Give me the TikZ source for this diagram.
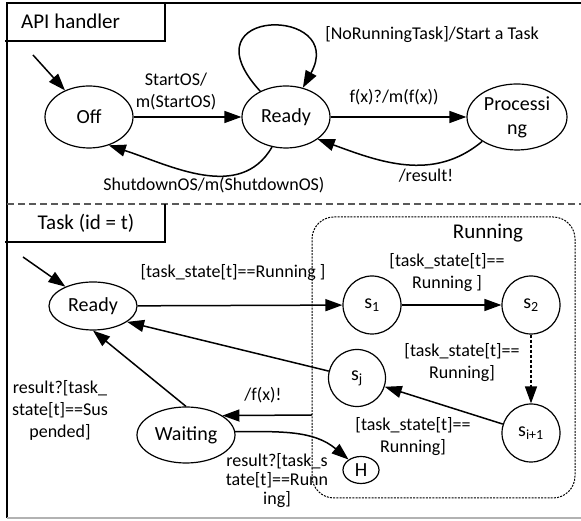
\documentclass[tikz,border=0pt]{standalone}
\usepackage{fontspec}
\setmainfont{Carlito}
\usetikzlibrary{
  arrows.meta,
  shapes.geometric
}
\tikzset{
  state/.style={
    draw,
    ellipse,
    line width=1.2pt,
    inner sep=0pt,
    font=\fontsize{20}{24}\selectfont
  },
  substate/.style={
    draw,
    circle,
    line width=1.2pt,
    inner sep=0pt,
    minimum size=58pt,
    font=\fontsize{20}{24}\selectfont
  },
  trans/.style={
    draw,
    line width=1.5pt,
    -{Triangle[length=17pt,width=12pt]}
  },
  guard/.style={
    inner sep=0pt,
    align=center,
    font=\fontsize{18}{22}\selectfont
  },
  region title/.style={
    inner sep=0pt,
    font=\fontsize{21}{24}\selectfont
  }
}

\begin{document}
\begin{tikzpicture}[x=1pt,y=1pt]
  \useasboundingbox (0,0) rectangle (581,521);

  % frame and regions
  \draw[line width=1.5pt] (581,518) -- (7,518) -- (7,3);
  \draw[line width=1.5pt, gray!60] (7,3) -- (581,3);
  \draw[line width=1.2pt] (5,480) -- (165,480) -- (165,518);
  \draw[line width=1.2pt, gray!70!black, dash pattern=on 7pt off 4pt] (7,317) -- (581,317);
  \draw[line width=1.2pt] (5,279) -- (165,279) -- (165,317);
  \node[region title, anchor=west] (apititle) at (21,500) {API handler};
  \node[region title] (tasktitle) at (86,298) {Task (id = t)};

  % API handler
  \node[state, minimum width=88pt, minimum height=62pt] (off) at (89,404) {Off};
  \node[state, minimum width=88pt, minimum height=62pt] (ready) at (286,404) {Ready};
  \node[state, minimum width=100pt, minimum height=66pt, align=center] (proc) at (517,404) {Processi\\ng};
  \coordinate (offinit) at (33,466);

  \draw[trans] (offinit) -- (off);
  \draw[trans] (off) -- (ready)
    node[guard] (startlbl) at (176,429) {StartOS/\\m(StartOS)};
  \draw[trans] (ready.-115) to[out=-120,in=-18] (off.-55)
    node[guard] (shutlbl) at (214,336) {ShutdownOS/m(ShutdownOS)};
  \draw[trans] (ready) -- (proc)
    node[guard] (calllbl) at (394,424) {f(x)?/m(f(x))};
  \draw[trans] (proc.-145) to[out=-140,in=-20] (ready.-35)
    node[guard] (resultlbl) at (426,345) {/result!};
  \draw[trans] (ready.135) .. controls (182,515) and (348,515) .. (ready.60)
    node[guard] (looplbl) at (432,486) {[NoRunningTask]/Start a Task};

  % Task
  \draw[line width=1pt, rounded corners=22pt, dash pattern=on 2pt off 1.2pt] (312,23) rectangle (575,304);
  \node[region title] (runlbl) at (488,288) {Running};

  \node[state, minimum width=88pt, minimum height=48pt] (tready) at (93,215) {Ready};
  \node[state, minimum width=98pt, minimum height=56pt] (waiting) at (186,86) {Waiting};
  \node[substate] (s1) at (372,216) {s\textsubscript{1}};
  \node[substate] (s2) at (531,216) {s\textsubscript{2}};
  \node[substate, minimum size=57pt] (sj) at (357,143) {s\textsubscript{j}};
  \node[substate] (si) at (531,88) {s\textsubscript{i+1}};
  \node[state, minimum width=36pt, minimum height=27pt] (hist) at (361,51) {H};
  \coordinate (treadyinit) at (23,264);
  \coordinate (fxout) at (312,106);

  \draw[trans] (treadyinit) -- (tready);
  \draw[trans] (tready) -- (s1)
    node[guard] (runlbl1) at (233,248) {[task\_state[t]==Running ]};
  \draw[trans] (s1) -- (s2)
    node[guard] (runlbl2) at (447,248) {[task\_state[t]==\\Running ]};
  \draw[trans, dash pattern=on 3pt off 2pt] (s2) -- (si)
    node[guard] (runlbl3) at (462,158) {[task\_state[t]==\\Running]};
  \draw[trans] (si) -- (sj)
    node[guard] (runlbl4) at (413,84) {[task\_state[t]==\\Running]};
  \draw[trans] (sj) -- (tready.-25);
  \draw[trans] (waiting.north) -- (tready.south)
    node[guard] (suslbl) at (60,111) {result?[task\_\\state[t]==Sus\\pended]};
  \draw[trans] (fxout) -- (waiting.28)
    node[guard] (fxlbl) at (263,126) {/f(x)!};
  \draw[trans] (waiting.4) to[out=0,in=140] (hist.140)
    node[guard, font=\fontsize{18}{19}\selectfont] (resumelbl) at (277,40) {result?[task\_s\\tate[t]==Runn\\ing]};
\end{tikzpicture}
\end{document}
